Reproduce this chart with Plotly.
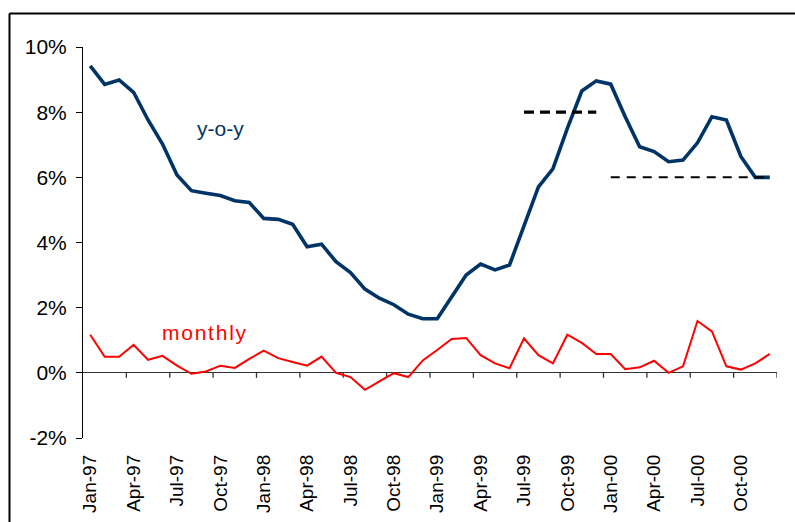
import plotly.graph_objects as go

months = [f"{m}-{y}" for y in ["97", "98", "99", "00"]
          for m in ["Jan", "Feb", "Mar", "Apr", "May", "Jun",
                    "Jul", "Aug", "Sep", "Oct", "Nov", "Dec"]]

yoy = [9.42, 8.85, 8.99, 8.61, 7.76, 7.02, 6.07, 5.59, 5.51, 5.44, 5.28, 5.23,
       4.74, 4.71, 4.56, 3.87, 3.95, 3.41, 3.08, 2.57, 2.29, 2.09, 1.80, 1.66,
       1.66, 2.31, 3.00, 3.34, 3.16, 3.31, 4.54, 5.71, 6.26, 7.50, 8.65, 8.96,
       8.86, 7.86, 6.94, 6.79, 6.48, 6.53, 7.06, 7.86, 7.76, 6.64, 6.00, 6.00]

monthly = [1.17, 0.49, 0.49, 0.86, 0.40, 0.52, 0.22, -0.03, 0.04, 0.22, 0.15, 0.43,
           0.68, 0.45, 0.33, 0.22, 0.50, 0.00, -0.13, -0.52, -0.26, -0.01, -0.13, 0.38,
           0.70, 1.04, 1.07, 0.54, 0.29, 0.14, 1.06, 0.54, 0.29, 1.17, 0.92, 0.58,
           0.58, 0.11, 0.17, 0.37, 0.00, 0.20, 1.59, 1.27, 0.20, 0.10, 0.29, 0.58]

target_1999_months = ["Jul-99", "Dec-99"]
target_1999 = [8, 8]
target_2000_months = ["Jan-00", "Dec-00"]
target_2000 = [6, 6]

y_min, y_max = -2, 10
y_ticks = [-2, 0, 2, 4, 6, 8, 10]
y_tick_labels = ["-2%", "0%", "2%", "4%", "6%", "8%", "10%"]

idx = {m: i for i, m in enumerate(months)}
x_all = list(range(len(months)))
label_pos = x_all[::3]
label_text = months[::3]
boundary_ticks = [i - 0.5 for i in range(3, len(months) + 1, 3)]

FONT = "Arial, Liberation Sans, sans-serif"
tick_len_units = 5 / (391 / (y_max - y_min))  # 5 px expressed on the y scale

fig = go.Figure()
# category-boundary tick marks hanging below the 0% axis line
fig.add_trace(go.Scatter(x=boundary_ticks, y=[0] * len(boundary_ticks), mode="markers",
                         marker=dict(size=1, color="rgba(0,0,0,0)"), hoverinfo="skip",
                         error_y=dict(type="data", symmetric=False,
                                      array=[0] * len(boundary_ticks),
                                      arrayminus=[tick_len_units] * len(boundary_ticks),
                                      color="#333", thickness=1.3, width=0)))
fig.add_trace(go.Scatter(x=x_all, y=yoy, mode="lines",
                         line=dict(color="#003366", width=3.6), name="y-o-y"))
fig.add_trace(go.Scatter(x=x_all, y=monthly, mode="lines",
                         line=dict(color="#ff0000", width=2), name="monthly"))
fig.add_trace(go.Scatter(x=[idx[m] for m in target_1999_months], y=target_1999,
                         mode="lines", line=dict(color="black", width=3.2, dash="10px,6px")))
fig.add_trace(go.Scatter(x=[idx[m] for m in target_2000_months], y=target_2000,
                         mode="lines", line=dict(color="black", width=2, dash="9px,7px")))

fig.add_annotation(x=9.0, y=7.5, text="y-o-y", showarrow=False,
                   font=dict(family=FONT, size=21, color="#003366"))
fig.add_annotation(x=7.9, y=1.23, text="\u200a".join("monthly"), showarrow=False,
                   font=dict(family=FONT, size=21, color="#ff0000"))

xr = [-0.5, len(months) - 0.5]
fig.update_layout(
    width=795, height=522,
    margin=dict(l=83, r=18, t=47, b=84),
    paper_bgcolor="white", plot_bgcolor="white",
    showlegend=False,
    font=dict(family=FONT, color="black"),
    xaxis=dict(range=xr, tickvals=label_pos, ticktext=label_text, tickangle=-90,
               showline=False, showgrid=False, zeroline=False, ticks="",
               automargin=False,
               ticklabelstandoff=12, tickfont=dict(size=19, family=FONT)),
    yaxis=dict(range=[y_min, y_max], tickvals=y_ticks, ticktext=y_tick_labels,
               showline=True, linecolor="black", linewidth=1, showgrid=False,
               zeroline=True, zerolinecolor="#333", zerolinewidth=1.2,
               ticks="outside", ticklen=6, tickcolor="black",
               automargin=False,
               ticklabelstandoff=5, tickfont=dict(size=21, family=FONT)),
)

# outer frame: top and left border lines (paper coordinates)
top_y = (522 - 84 - 13.5) / 391
left_x = (9.5 - 83) / 694
fig.add_shape(type="line", xref="paper", yref="paper", x0=left_x, x1=1.1,
              y0=top_y, y1=top_y, line=dict(color="black", width=2))
fig.add_shape(type="line", xref="paper", yref="paper", x0=left_x, x1=left_x,
              y0=top_y, y1=-0.3, line=dict(color="black", width=2))

fig.write_html("out.html", config={"displayModeBar": False},
               post_script="document.body.style.margin='0';document.body.style.overflow='hidden';")
